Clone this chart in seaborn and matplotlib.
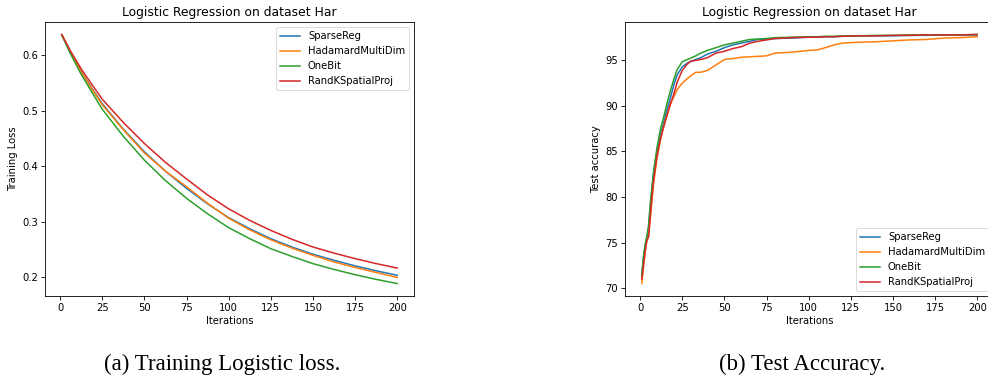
import matplotlib
matplotlib.use("Agg")
import matplotlib.pyplot as plt
import seaborn as sns
import pandas as pd

methods = ["SparseReg", "HadamardMultiDim", "OneBit", "RandKSpatialProj"]
colors = ["#1f77b4", "#ff7f0e", "#2ca02c", "#d62728"]

# ---- Training loss (left) ----
loss_iters = [1, 6, 12.5, 19, 25, 37.5, 50, 62.5, 75, 87.5, 100, 112.5, 125, 137.5,
              150, 162.5, 175, 187.5, 200]
loss_sparse = [0.637, 0.607, 0.571, 0.540, 0.513, 0.467, 0.426, 0.391, 0.360, 0.332,
               0.307, 0.287, 0.269, 0.254, 0.241, 0.230, 0.220, 0.211, 0.203]
loss_hadamard = [0.637, 0.607, 0.570, 0.539, 0.511, 0.466, 0.424, 0.391, 0.363, 0.333,
                 0.306, 0.285, 0.267, 0.252, 0.239, 0.227, 0.217, 0.208, 0.199]
loss_onebit = [0.637, 0.604, 0.566, 0.533, 0.503, 0.454, 0.411, 0.374, 0.342, 0.314,
               0.289, 0.269, 0.251, 0.237, 0.224, 0.2135, 0.204, 0.1955, 0.188]
loss_randk = [0.638, 0.609, 0.576, 0.547, 0.521, 0.479, 0.441, 0.407, 0.377, 0.348,
              0.323, 0.302, 0.284, 0.268, 0.254, 0.243, 0.233, 0.224, 0.216]

# ---- Test accuracy (right) ----
acc_iters = [1, 2, 3, 4, 5, 6, 7, 8, 10, 12, 14, 16, 18, 20, 22, 25, 28, 30, 33, 36, 40,
             45, 50, 55, 60, 65, 70, 75, 80, 90, 100, 105, 110, 115, 120, 130, 140, 150,
             160, 170, 180, 190, 200]
acc_sparse = [71.3, 73.2, 74.6, 75.5, 76.6, 78.8, 80.8, 82.6, 85.0, 86.8, 88.2, 89.6, 90.9,
              92.3, 93.4, 94.3, 94.7, 94.9, 95.1, 95.3, 95.7, 96.0, 96.4, 96.7, 96.9, 97.1,
              97.3, 97.35, 97.4, 97.45, 97.55, 97.55, 97.6, 97.6, 97.65, 97.7, 97.7, 97.7,
              97.75, 97.75, 97.8, 97.8, 97.8]
acc_hadamard = [70.5, 72.3, 74.0, 75.3, 75.7, 77.5, 79.5, 81.5, 84.2, 86.2, 87.8, 89.0, 90.2,
                91.0, 91.8, 92.5, 93.0, 93.3, 93.7, 93.7, 93.9, 94.5, 95.1, 95.2, 95.35, 95.4,
                95.45, 95.5, 95.8, 95.9, 96.1, 96.15, 96.4, 96.7, 96.9, 97.0, 97.05, 97.15,
                97.25, 97.3, 97.45, 97.5, 97.6]
acc_onebit = [71.5, 73.5, 74.8, 75.7, 76.8, 79.2, 81.0, 82.8, 85.4, 87.4, 88.8, 90.3, 91.7,
              92.9, 94.0, 94.85, 95.1, 95.25, 95.5, 95.8, 96.1, 96.4, 96.7, 96.9, 97.1, 97.3,
              97.35, 97.4, 97.5, 97.55, 97.6, 97.6, 97.65, 97.65, 97.7, 97.7, 97.75, 97.75,
              97.8, 97.8, 97.8, 97.8, 97.85]
acc_randk = [71.0, 72.5, 74.0, 75.2, 75.6, 77.8, 80.0, 81.8, 84.5, 86.3, 87.7, 89.0, 90.2,
             91.3, 92.6, 93.9, 94.6, 94.9, 95.0, 95.1, 95.3, 95.8, 96.0, 96.3, 96.5, 96.9,
             97.1, 97.25, 97.4, 97.5, 97.55, 97.55, 97.6, 97.6, 97.65, 97.7, 97.7, 97.75,
             97.75, 97.8, 97.8, 97.8, 97.85]

loss_vals = [loss_sparse, loss_hadamard, loss_onebit, loss_randk]
acc_vals = [acc_sparse, acc_hadamard, acc_onebit, acc_randk]

loss_df = pd.concat([pd.DataFrame({"Iterations": loss_iters, "value": v, "method": m})
                     for m, v in zip(methods, loss_vals)], ignore_index=True)
acc_df = pd.concat([pd.DataFrame({"Iterations": acc_iters, "value": v, "method": m})
                    for m, v in zip(methods, acc_vals)], ignore_index=True)

plt.rcParams["font.family"] = ["DejaVu Sans"]
fs_tick = 7.2
fs_title = 8.9

fig = plt.figure(figsize=(9.88, 3.77), dpi=100)
W, H = 988, 377
ax1 = fig.add_axes([45 / W, (H - 296) / H, 369 / W, 274 / H])
ax2 = fig.add_axes([625 / W, (H - 296) / H, 369 / W, 274 / H])

pal = dict(zip(methods, colors))
sns.lineplot(data=loss_df, x="Iterations", y="value", hue="method", palette=pal,
             hue_order=methods, ax=ax1, linewidth=1.1)
sns.lineplot(data=acc_df, x="Iterations", y="value", hue="method", palette=pal,
             hue_order=methods, ax=ax2, linewidth=1.1)

for ax, ylab, loc in [(ax1, "Training Loss", "upper right"), (ax2, "Test accuracy", "lower right")]:
    ax.set_title("Logistic Regression on dataset Har", fontsize=fs_title, pad=4.5)
    ax.set_xlabel("Iterations", fontsize=fs_tick, labelpad=2)
    ax.set_ylabel(ylab, fontsize=fs_tick, labelpad=3)
    ax.tick_params(labelsize=fs_tick, length=2.6, width=0.6, pad=2.5)
    for s in ax.spines.values():
        s.set_linewidth(0.6)
    ax.set_xticks([0, 25, 50, 75, 100, 125, 150, 175, 200])
    leg = ax.legend(loc=loc, fontsize=fs_tick, handlelength=2.0, framealpha=0.8)
    leg.get_frame().set_linewidth(0.6)
    for l in leg.get_lines():
        l.set_linewidth(1.1)

ax1.set_yticks([0.2, 0.3, 0.4, 0.5, 0.6])
ax2.set_yticks([70, 75, 80, 85, 90, 95])

fig.text(222 / W, 1 - 370 / H, "(a) Training Logistic loss.", ha="center", va="baseline",
         fontsize=16.5, family=["Liberation Serif"])
fig.text(802 / W, 1 - 370 / H, "(b) Test Accuracy.", ha="center", va="baseline",
         fontsize=16.5, family=["Liberation Serif"])

fig.savefig("out.png", dpi=100)
